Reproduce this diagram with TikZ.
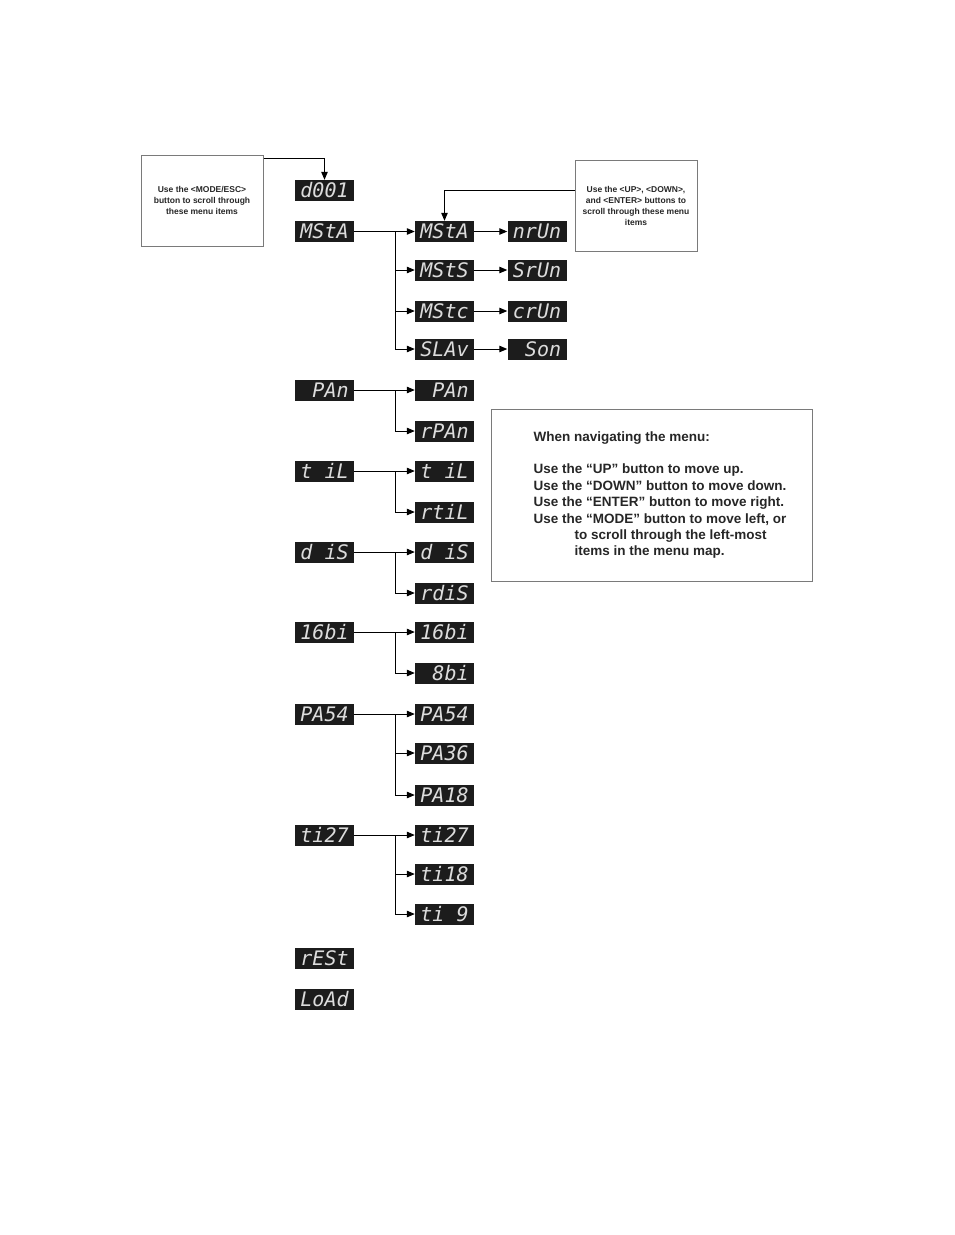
\documentclass[tikz,border=0pt]{standalone}
\usepackage{fontspec}
\setmainfont{Liberation Sans}
\newfontfamily\segfont{DejaVu Sans Mono}
\usetikzlibrary{arrows.meta}

\definecolor{segtext}{HTML}{DCDCDC}
\definecolor{segback}{HTML}{1C1C1C}
\definecolor{boxline}{HTML}{7A7A7A}
\definecolor{notetext}{HTML}{262626}

\tikzset{
  disp/.style={fill=segback, text=segtext, minimum width=59pt, minimum height=21pt,
    inner sep=0pt, font=\segfont\itshape\fontsize{20}{20}\selectfont},
  arr/.style={-{Triangle[length=8pt,width=6.5pt]}, line width=1pt},
  note/.style={draw=boxline, line width=1pt, minimum width=122pt, minimum height=91pt,
    align=center, text=notetext, font=\bfseries\fontsize{8.5}{11}\selectfont}
}

\begin{document}
\begin{tikzpicture}[x=1pt,y=-1pt]
  \useasboundingbox (0,0) rectangle (954,1235);

  % notes
  \node[note] (modenote) at (202,200.5) {Use the <MODE/ESC>\\button to scroll through\\these menu items};
  \node[note] (upnote) at (636,206) {Use the <UP>, <DOWN>,\\and <ENTER> buttons to\\scroll through these menu\\items};
  \node[draw=boxline, line width=1pt, minimum width=321pt, minimum height=172pt] (navnote) at (651.5,495) {};
  \node[anchor=west, align=left, inner sep=0pt, text=notetext,
    font=\bfseries\fontsize{13.5}{16.4}\selectfont] (navtext) at ([xshift=43pt]navnote.west)
    {When navigating the menu:\\[16.4pt]
     Use the “UP” button to move up.\\
     Use the “DOWN” button to move down.\\
     Use the “ENTER” button to move right.\\
     Use the “MODE” button to move left, or\\
     \hspace*{41pt}to scroll through the left-most\\
     \hspace*{41pt}items in the menu map.};

  % left-most items
  \node[disp] (d001) at (324.5,190.5) {d001};
  \node[disp] (msta) at (324.5,231.5) {MStA};
  \node[disp] (pan)  at (324.5,390)   {~PAn};
  \node[disp] (til)  at (324.5,471)   {t~iL};
  \node[disp] (dis)  at (324.5,552)   {d~iS};
  \node[disp] (bits) at (324.5,632)   {16bi};
  \node[disp] (pa54) at (324.5,714)   {PA54};
  \node[disp] (ti27) at (324.5,835)   {ti27};
  \node[disp] (rest) at (324.5,958)   {rESt};
  \node[disp] (load) at (324.5,999)   {LoAd};

  % second column
  \node[disp] (mstaa) at (444.5,231.5) {MStA};
  \node[disp] (msts)  at (444.5,270)   {MStS};
  \node[disp] (mstc)  at (444.5,311)   {MStc};
  \node[disp] (slav)  at (444.5,349)   {SLAv};
  \node[disp] (pana)  at (444.5,390)   {~PAn};
  \node[disp] (rpan)  at (444.5,431)   {rPAn};
  \node[disp] (tila)  at (444.5,471)   {t~iL};
  \node[disp] (rtil)  at (444.5,512)   {rtiL};
  \node[disp] (disa)  at (444.5,552)   {d~iS};
  \node[disp] (rdis)  at (444.5,593)   {rdiS};
  \node[disp] (bitsa) at (444.5,632)   {16bi};
  \node[disp] (bit8)  at (444.5,673)   {~8bi};
  \node[disp] (pa54a) at (444.5,714)   {PA54};
  \node[disp] (pa36)  at (444.5,753)   {PA36};
  \node[disp] (pa18)  at (444.5,795)   {PA18};
  \node[disp] (ti27a) at (444.5,835)   {ti27};
  \node[disp] (ti18)  at (444.5,874)   {ti18};
  \node[disp] (ti9)   at (444.5,914)   {ti~9};

  % third column
  \node[disp] (nrun) at (537,231.5) {nrUn};
  \node[disp] (srun) at (537,270)   {SrUn};
  \node[disp] (crun) at (537,311)   {crUn};
  \node[disp] (son)  at (537,349)   {~Son};

  % connectors
  \draw[arr] ([yshift=-4pt]modenote.north east) -| (d001);
  \draw[arr] ([yshift=16pt]upnote.west) -| (mstaa);

  \draw[arr] (msta) -- (mstaa);
  \draw[arr] ([xshift=41pt]msta.east) |- (msts);
  \draw[arr] ([xshift=41pt]msta.east) |- (mstc);
  \draw[arr] ([xshift=41pt]msta.east) |- (slav);
  \draw[arr] (mstaa) -- (nrun);
  \draw[arr] (msts) -- (srun);
  \draw[arr] (mstc) -- (crun);
  \draw[arr] (slav) -- (son);

  \draw[arr] (pan) -- (pana);
  \draw[arr] ([xshift=41pt]pan.east) |- (rpan);
  \draw[arr] (til) -- (tila);
  \draw[arr] ([xshift=41pt]til.east) |- (rtil);
  \draw[arr] (dis) -- (disa);
  \draw[arr] ([xshift=41pt]dis.east) |- (rdis);
  \draw[arr] (bits) -- (bitsa);
  \draw[arr] ([xshift=41pt]bits.east) |- (bit8);
  \draw[arr] (pa54) -- (pa54a);
  \draw[arr] ([xshift=41pt]pa54.east) |- (pa36);
  \draw[arr] ([xshift=41pt]pa54.east) |- (pa18);
  \draw[arr] (ti27) -- (ti27a);
  \draw[arr] ([xshift=41pt]ti27.east) |- (ti18);
  \draw[arr] ([xshift=41pt]ti27.east) |- (ti9);
\end{tikzpicture}
\end{document}
